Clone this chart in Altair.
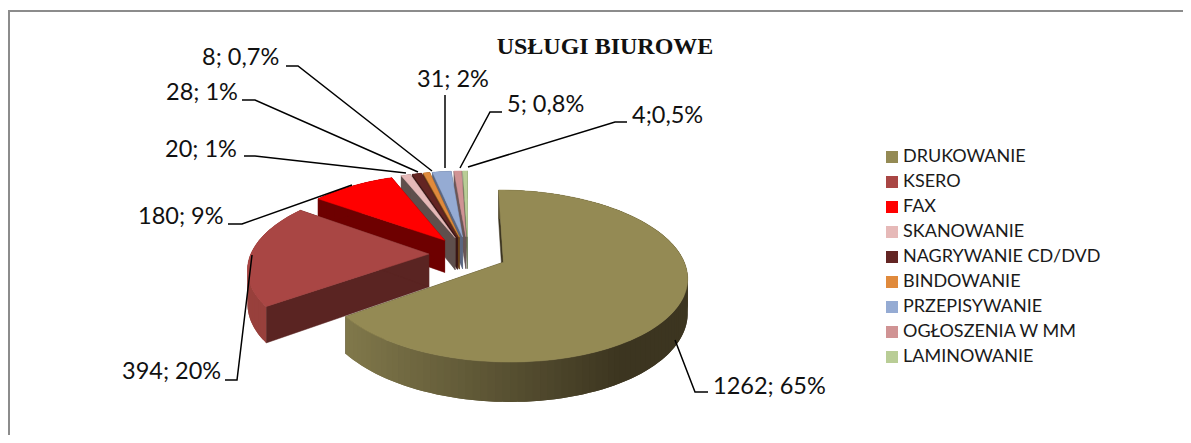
import math
import altair as alt
import pandas as pd

# ---------- data ----------
names = ["DRUKOWANIE", "KSERO", "FAX", "SKANOWANIE", "NAGRYWANIE CD/DVD",
         "BINDOWANIE", "PRZEPISYWANIE", "OGŁOSZENIA W MM", "LAMINOWANIE"]
shares = [65, 20, 9, 1, 1, 0.7, 2, 0.8, 0.5]
colors = ["#948A54", "#A94644", "#FF0000", "#E6B9B8", "#632523",
          "#E08A3C", "#95ABD3", "#D09394", "#B9CD96"]
side_colors = ["#565030", "#5A2422", "#6E0000", "#5F4F4C", "#3A1716",
               "#6A4018", "#5A6680", "#6A5656", "#6A7858"]
label_texts = ["1262; 65%", "394; 20%", "180; 9%", "20; 1%", "28; 1%",
               "8; 0,7%", "31; 2%", "5; 0,8%", "4;0,5%"]
title_text = "USŁUGI BIUROWE"

# ---------- layout of the tilted, exploded pie (pixels in the chart frame) ----------
CX, CY = 460.0, 246.0
W, H, K = 178.0, 81.2, 0.1575
EXPLODE, DEPTH = 0.22, 33.0

label_x = [705, 114, 130, 157, 158, 194, 409, 499, 624]
label_y = [379, 364, 209, 142, 85, 50, 72, 97, 108]
leaders = [
    [(667, 332), (687, 384), (700, 384)],
    [(244, 247), (229, 372), (217, 372)],
    [(344, 177), (234, 216), (220, 216)],
    [(398, 165), (247, 148), (236, 148)],
    [(410, 164), (247, 92), (234, 92)],
    [(424, 163), (290, 58), (278, 58)],
    [(437, 160), (437, 87)],
    [(452, 160), (482, 104), (494, 104)],
    [(460, 159), (607, 114), (619, 114)],
]


def proj(u, v, drop=0.0):
    s = 1 + K * v
    return [CX + W * u / s, CY - H * v / s + drop / s]


def feature(ring, fill, sw=0.5):
    return {"type": "Feature",
            "geometry": {"type": "Polygon", "coordinates": [ring + [ring[0]]]},
            "properties": {"fill": fill, "sw": sw}}


def hexmix(a, b, t):
    ca = [int(a[i:i + 2], 16) for i in (1, 3, 5)]
    cb = [int(b[i:i + 2], 16) for i in (1, 3, 5)]
    return "#%02x%02x%02x" % tuple(round(x + (y - x) * t) for x, y in zip(ca, cb))


total = sum(shares)
spans, start = [], 0.0
for v in shares:
    spans.append((start, start + 360.0 * v / total))
    start += 360.0 * v / total

slices = []
for i, (a0, a1) in enumerate(spans):
    mid = math.radians((a0 + a1) / 2)
    ou, ov = EXPLODE * math.sin(mid), EXPLODE * math.cos(mid)
    n = max(2, int((a1 - a0) / 2))
    rim = []
    for j in range(n + 1):
        a = math.radians(a0 + (a1 - a0) * j / n)
        rim.append((ou + math.sin(a), ov + math.cos(a)))
    slices.append({"i": i, "o": (ou, ov), "rim": rim})

# painter's order: back slices first, big front slice last
features = []
top_features = []
for s in [slices[k] for k in (8, 7, 6, 5, 4, 3, 2, 1, 0)]:
    i, (ou, ov), rim = s["i"], s["o"], s["rim"]
    side = side_colors[i]
    # the two radial walls
    for p in (rim[0], rim[-1]):
        features.append(feature([proj(ou, ov), proj(*p), proj(*p, DEPTH), proj(ou, ov, DEPTH)],
                                "#3c3520" if i == 0 else side))
    # rim wall, shaded in overlapping strips so no seams show
    for j in range(len(rim) - 1):
        p, q = rim[j], rim[min(j + 2, len(rim) - 1)]
        if i == 0:
            x = proj(*p)[0]
            t = min(1.0, max(0.0, (x - 345) / 270))
            fill = hexmix("#7F774A", "#3C3520", t)
        elif i == 1:
            fill = "#98403C"
        else:
            fill = side
        mid_pt = rim[j + 1]
        features.append(feature([proj(*p), proj(*mid_pt), proj(*q), proj(*q, DEPTH),
                                 proj(*mid_pt, DEPTH), proj(*p, DEPTH)], fill, 0))
    top = [proj(ou, ov)] + [proj(*p) for p in rim]
    features.append(feature(top, colors[i]))
    top_features.append({**feature(top, colors[i]),
                         "properties": {"fill": colors[i], "name": names[i]}})

identity = alt.Projection(type="identity", scale=1, translate=[0, 0])

legend_layer = alt.Chart(alt.Data(values=top_features)).mark_geoshape(strokeWidth=0).encode(
    color=alt.Color(
        "properties.name:N",
        scale=alt.Scale(domain=names, range=colors),
        sort=names,
        legend=alt.Legend(title=None, orient="none", legendX=875, legendY=140,
                          symbolType="square", symbolSize=144, symbolStrokeWidth=0,
                          labelFont="Lato", labelFontSize=18, labelColor="#1a1a1a",
                          labelOffset=2, rowPadding=7, labelLimit=300, padding=0),
    )
).properties(projection=identity)

pie = alt.Chart(alt.Data(values=features)).mark_geoshape().encode(
    fill=alt.Fill("properties.fill:N", scale=None, legend=None),
    stroke=alt.Stroke("properties.fill:N", scale=None, legend=None),
    strokeWidth=alt.StrokeWidth("properties.sw:Q", scale=None, legend=None),
).properties(projection=identity)

line_rows = [{"k": k, "o": o, "x": p[0], "y": p[1]}
             for k, pts in enumerate(leaders) for o, p in enumerate(pts)]
lines = alt.Chart(pd.DataFrame(line_rows)).mark_line(color="#000000", strokeWidth=1.5).encode(
    x=alt.X("x:Q", scale=None, axis=None),
    y=alt.Y("y:Q", scale=None, axis=None),
    detail="k:N",
    order="o:Q",
)

labels = alt.Chart(pd.DataFrame({"t": label_texts, "x": label_x, "y": label_y})).mark_text(
    align="left", baseline="middle", font="Lato", fontSize=23.5, color="#111111"
).encode(x=alt.X("x:Q", scale=None, axis=None), y=alt.Y("y:Q", scale=None, axis=None), text="t:N")

title = alt.Chart(pd.DataFrame({"t": [title_text]})).mark_text(
    align="center", baseline="middle", font="Liberation Serif", fontSize=24,
    fontWeight="bold", color="#111111"
).encode(x=alt.value(597), y=alt.value(39), text="t:N")

one = pd.DataFrame({"a": [0]})
frame_left = alt.Chart(one).mark_rule(color="#8C8C8C", strokeWidth=2).encode(
    x=alt.value(1), y=alt.value(2), y2=alt.value(427))
frame_top = alt.Chart(one).mark_rule(color="#8C8C8C", strokeWidth=2).encode(
    x=alt.value(0), x2=alt.value(1175), y=alt.value(3))

chart = alt.layer(frame_left, frame_top, legend_layer, pie, lines, labels, title).resolve_scale(
    color="independent", fill="independent", stroke="independent"
).properties(
    width=1175, height=427, padding=0, autosize=alt.AutoSizeParams(type="none"),
).configure_view(stroke=None)

chart.save("out.html", embed_options={"renderer": "svg", "actions": False})
